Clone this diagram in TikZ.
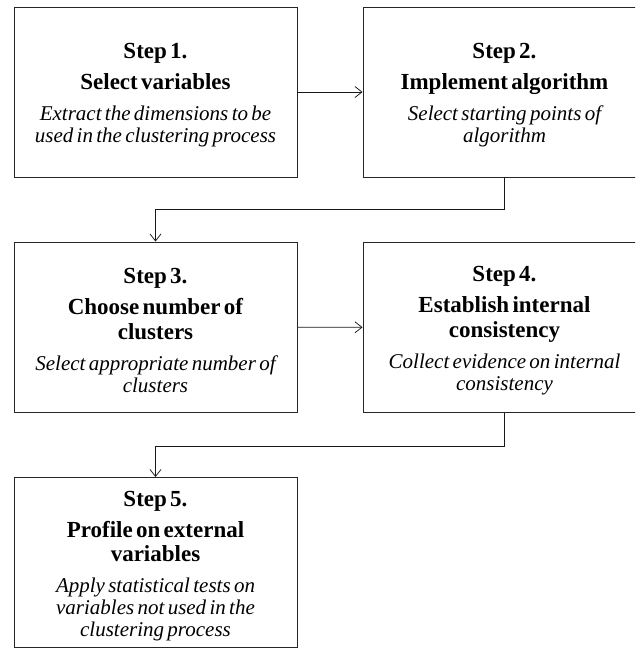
\documentclass[tikz,border=0pt]{standalone}
\usepackage{fontspec}
\setmainfont{Liberation Serif}
\usetikzlibrary{arrows.meta}
\newcommand{\stepbody}[3]{{\bfseries\fontsize{23}{24.5}\selectfont \rule{0pt}{22pt}#1\\[6.5pt]#2\par}\vspace{9pt}{\itshape\fontsize{21}{22}\selectfont #3\par}}
\begin{document}
\begin{tikzpicture}[x=1pt,y=-1pt,
  stepbox/.style={draw=black!85, line width=0.9pt, rectangle, minimum width=283pt, minimum height=170pt, text width=274pt, align=center, inner sep=0pt},
  arr/.style={draw=black!90, line width=0.75pt, -{Straight Barb[length=7pt,width=11pt]}}]
\useasboundingbox (0,0) rectangle (635,648);
\clip (0,0) rectangle (635,648);
\node[stepbox] (s1) at (155.5,92) {\stepbody{Step 1.}{Select variables}{Extract the dimensions to be\\used in the clustering process}};
\node[stepbox] (s2) at (504.5,92) {\stepbody{Step 2.}{Implement algorithm}{Select starting points of\\algorithm}};
\node[stepbox] (s3) at (155.5,327) {\stepbody{Step 3.}{Choose number of\\clusters}{Select appropriate number of\\clusters}};
\node[stepbox] (s4) at (504.5,327.5) {\stepbody{Step 4.}{Establish internal\\consistency}{Collect evidence on internal\\consistency}};
\node[stepbox] (s5) at (155.5,562.5) {\stepbody{Step 5.}{Profile on external\\variables}{Apply statistical tests on\\variables not used in the\\clustering process}};
\draw[arr] (s1) -- (s2);
\draw[arr] (s2.south) -- ++(0,32) -| (s3.north);
\draw[arr] (s3) -- (s4);
\draw[arr] (s4.south) -- ++(0,33) -| (s5.north);
\end{tikzpicture}
\end{document}
